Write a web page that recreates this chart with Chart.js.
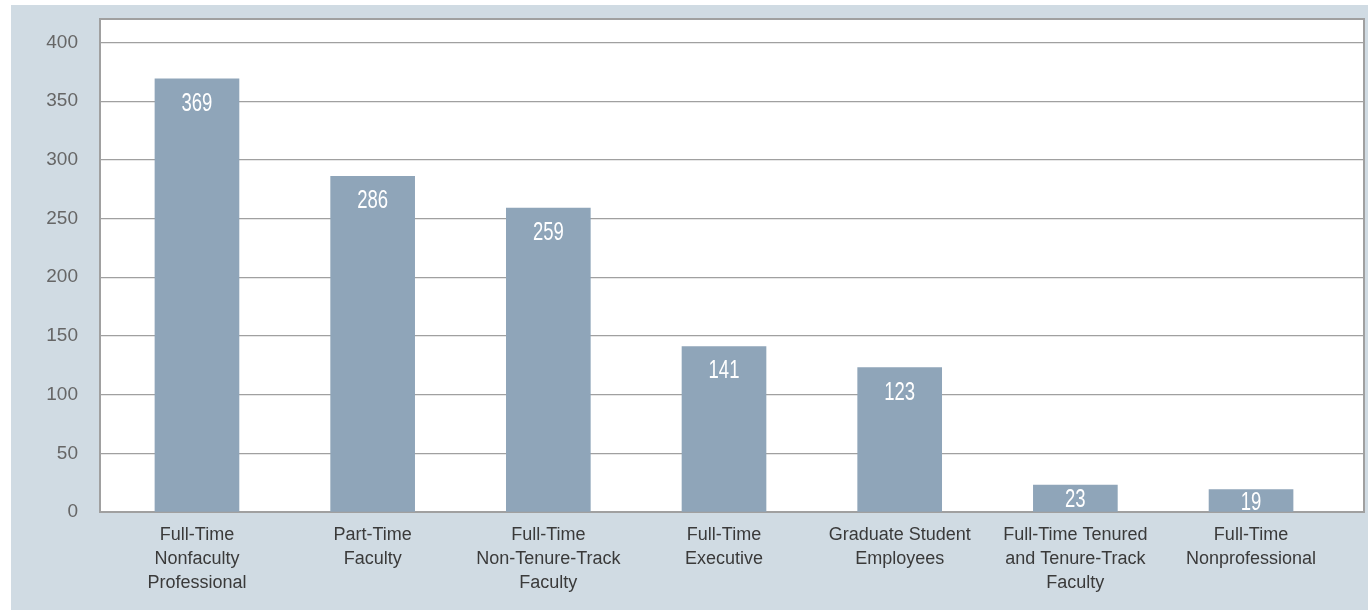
<!DOCTYPE html>
<html>
<head>
<meta charset="utf-8">
<script src="https://cdn.jsdelivr.net/npm/chart.js@4.4.1/dist/chart.umd.min.js"></script>
<style>
    html, body { margin: 0; padding: 0; background: #ffffff; }
    #wrap {
        position: absolute;
        left: 11px;
        top: 5px;
        width: 1357px;
        height: 605px;
        background: #d0dbe3;
    }
    canvas { display: block; }
</style>
</head>
<body>
<div id="wrap"><canvas id="staffChart" width="1357" height="605"></canvas></div>
<script>
const categories = [
    ['Full-Time', 'Nonfaculty', 'Professional'],
    ['Part-Time', 'Faculty'],
    ['Full-Time', 'Non-Tenure-Track', 'Faculty'],
    ['Full-Time', 'Executive'],
    ['Graduate Student', 'Employees'],
    ['Full-Time Tenured', 'and Tenure-Track', 'Faculty'],
    ['Full-Time', 'Nonprofessional']
];
const counts = [369, 286, 259, 141, 123, 23, 19];
const yTicks = [0, 50, 100, 150, 200, 250, 300, 350, 400];

const barColor = '#8fa5b9';
const lineColor = '#a0a0a0';

// white plot box plus top/right frame
const plotBox = {
    id: 'plotBox',
    beforeDraw(chart) {
        const { ctx, chartArea: a } = chart;
        ctx.save();
        ctx.fillStyle = '#ffffff';
        ctx.fillRect(a.left, a.top, a.right - a.left, a.bottom - a.top);
        ctx.restore();
    },
    afterDraw(chart) {
        const { ctx, chartArea: a } = chart;
        ctx.save();
        ctx.strokeStyle = lineColor;
        ctx.lineWidth = 2;
        ctx.beginPath();
        ctx.moveTo(a.left, a.top);
        ctx.lineTo(a.right, a.top);
        ctx.lineTo(a.right, a.bottom);
        ctx.stroke();
        ctx.restore();
    }
};

// white numbers inside the bars
const barValues = {
    id: 'barValues',
    afterDatasetsDraw(chart) {
        const { ctx } = chart;
        const meta = chart.getDatasetMeta(0);
        ctx.save();
        ctx.fillStyle = '#ffffff';
        ctx.font = '25px "Liberation Sans", Arial, sans-serif';
        ctx.textAlign = 'center';
        ctx.textBaseline = 'alphabetic';
        meta.data.forEach((bar, i) => {
            const h = bar.base - bar.y;
            const textTop = bar.y + Math.min(14, (h - 18) / 2);
            ctx.save();
            ctx.translate(bar.x, textTop + 18);
            ctx.scale(0.74, 1);
            ctx.fillText(String(counts[i]), 0, 0);
            ctx.restore();
        });
        ctx.restore();
    }
};

const ctx = document.getElementById('staffChart').getContext('2d');
new Chart(ctx, {
    type: 'bar',
    data: {
        datasets: [{
            data: counts.map((v, i) => ({ x: i, y: v })),
            backgroundColor: barColor,
            barThickness: 84
        }]
    },
    options: {
        responsive: false,
        animation: false,
        layout: {
            padding: { top: 14, right: 4, left: 0, bottom: 0 }
        },
        plugins: {
            legend: { display: false },
            tooltip: { enabled: false }
        },
        scales: {
            x: {
                type: 'linear',
                offset: false,
                min: -0.552,
                max: 6.643,
                afterBuildTicks: scale => {
                    scale.ticks = categories.map((c, i) => ({ value: i }));
                },
                afterFit: scale => {
                    scale.height = 98;
                    scale.paddingLeft = 0;
                    scale.paddingRight = 0;
                },
                grid: { display: false, drawTicks: false },
                border: { display: true, color: lineColor, width: 2 },
                ticks: {
                    autoSkip: false,
                    maxRotation: 0,
                    padding: 11,
                    color: '#3a3a3a',
                    font: { family: '"Liberation Sans", Arial, sans-serif', size: 18, lineHeight: 1.333 },
                    callback: value => categories[value] || ''
                }
            },
            y: {
                min: 0,
                max: 420,
                afterBuildTicks: scale => {
                    scale.ticks = yTicks.map(v => ({ value: v }));
                },
                afterFit: scale => {
                    scale.width = 89;
                    scale.paddingTop = 0;
                    scale.paddingBottom = 0;
                },
                grid: { color: lineColor, lineWidth: 1.3, drawTicks: false },
                border: { display: true, color: lineColor, width: 2 },
                ticks: {
                    padding: 22,
                    color: '#666666',
                    font: { family: '"Liberation Sans", Arial, sans-serif', size: 19 }
                }
            }
        }
    },
    plugins: [plotBox, barValues]
});
</script>
</body>
</html>
